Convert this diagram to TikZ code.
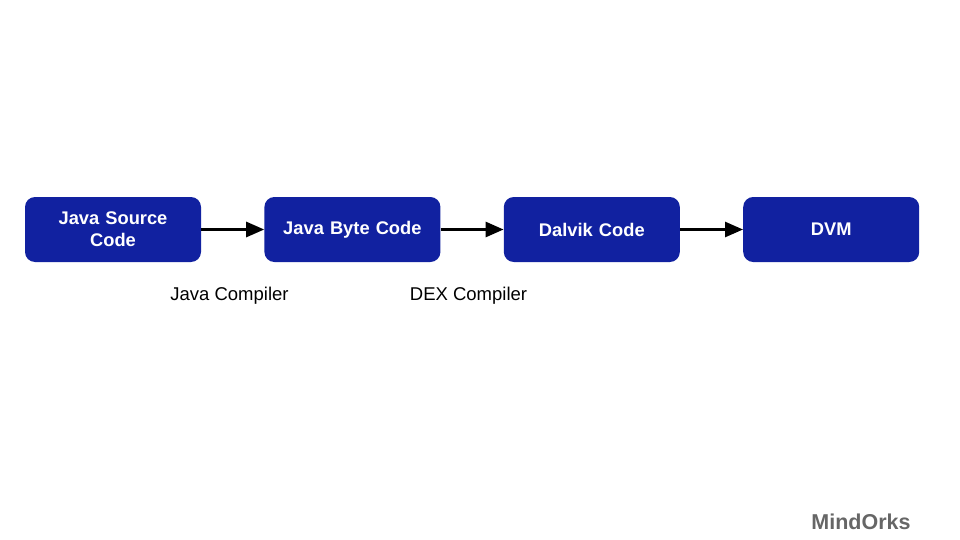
\documentclass[tikz,border=0pt]{standalone}
\usepackage{fontspec}
\setmainfont{Liberation Sans}
\usetikzlibrary{arrows.meta,positioning}
\definecolor{boxblue}{RGB}{17,33,160}
\definecolor{markgray}{RGB}{102,102,102}
\begin{document}
\begin{tikzpicture}[x=1pt,y=-1pt,
  stagebox/.style={rectangle, rounded corners=10pt, fill=boxblue, text=white, font=\fontsize{18.3}{22}\selectfont\bfseries, align=center, minimum width=176pt, minimum height=65pt, text width=166pt, inner sep=0pt},
  flow/.style={line width=2.8pt, -{Triangle[length=18pt,width=15pt]}},
  lbl/.style={font=\fontsize{18.5}{22}\selectfont, inner sep=0pt}]
\useasboundingbox (0,0) rectangle (960,540);
\node[stagebox] (src) at (113,229.5){Java Source\\Code};
\node[stagebox, right=63pt of src] (byte){Java Byte Code};
\node[stagebox, right=63pt of byte] (dalvik){Dalvik Code};
\node[stagebox, right=63pt of dalvik] (dvm){DVM};
\draw[flow](src) -- (byte);
\draw[flow](byte) -- (dalvik);
\draw[flow](dalvik) -- (dvm);
\node[lbl] (javac) at (229.5,296){Java Compiler};
\node[lbl] (dexc) at (468.5,296){DEX Compiler};
\node[lbl, font=\fontsize{21.5}{24}\selectfont\bfseries, text=markgray] (brand) at (861,522){MindOrks};
\end{tikzpicture}
\end{document}
